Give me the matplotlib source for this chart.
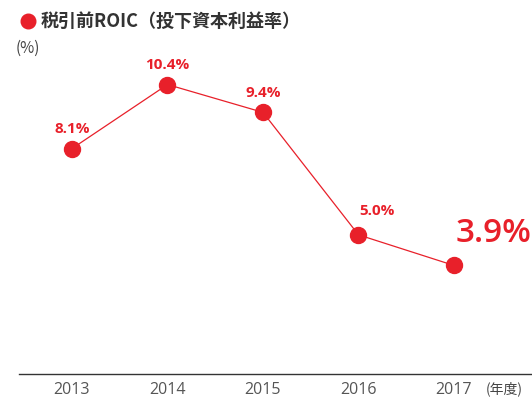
import matplotlib
matplotlib.use("Agg")
import matplotlib.pyplot as plt
from matplotlib.lines import Line2D

plt.rcParams['font.family'] = ['Noto Sans CJK JP', 'DejaVu Sans']

years = [2013, 2014, 2015, 2016, 2017]
roic = [8.1, 10.4, 9.4, 5.0, 3.9]
labels = ['8.1%', '10.4%', '9.4%', '5.0%', '3.9%']

red = '#E8202A'
gray = '#444444'
num_font = ['Open Sans', 'DejaVu Sans']

fig = plt.figure(figsize=(5.32, 4.01), dpi=100)
ax = fig.add_axes([19 / 532, 27 / 401, 513 / 532, 334 / 401])

ax.plot(years, roic, color=red, lw=0.9, marker='o', markersize=11.5,
        markerfacecolor=red, markeredgecolor=red, zorder=3, clip_on=False)

for i, (x, y, t) in enumerate(zip(years, roic, labels)):
    if i == len(years) - 1:
        ax.annotate(t, (x, y), xytext=(1, 11), textcoords='offset points',
                    ha='left', va='bottom', fontsize=24, color=red,
                    fontweight='semibold', family=num_font)
    elif i == 3:
        ax.annotate(t, (x, y), xytext=(13, 12), textcoords='offset points',
                    ha='center', va='bottom', fontsize=11, color=red,
                    fontweight='bold', family=num_font)
    else:
        ax.annotate(t, (x, y), xytext=(0, 9), textcoords='offset points',
                    ha='center', va='bottom', fontsize=11, color=red,
                    fontweight='bold', family=num_font)

ax.set_xlim(2012.445, 2017.817)
ax.set_ylim(0, 12)
ax.set_yticks([])
ax.set_xticks(years)
ax.set_xticklabels([str(y) for y in years], fontsize=11.5, color='#555555',
                   family=num_font)
ax.tick_params(axis='x', length=0, pad=6)
for s in ['top', 'left', 'right']:
    ax.spines[s].set_visible(False)
ax.spines['bottom'].set_color('#333333')
ax.spines['bottom'].set_linewidth(1)
ax.patch.set_alpha(0)

fig.text(486 / 532, 1 - 389 / 401, '(年度)', fontsize=10, color=gray,
         ha='left', va='center')

# title
fig.add_artist(Line2D([28 / 532], [1 - 21 / 401], marker='o', markersize=10.5,
                      color=red, transform=fig.transFigure))
fig.text(41 / 532, 1 - 21 / 401, '税引前ROIC（投下資本利益率）', fontsize=13,
         fontweight='bold', color='#333333', ha='left', va='center')
fig.text(16 / 532, 1 - 48 / 401, '(%)', fontsize=11, color=gray,
         ha='left', va='center')

fig.savefig('out.png', dpi=100)
